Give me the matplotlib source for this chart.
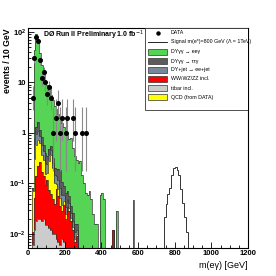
import numpy as np
import matplotlib
matplotlib.use("Agg")
import matplotlib.pyplot as plt
from matplotlib.patches import Rectangle
from matplotlib.lines import Line2D
from matplotlib.ticker import FixedLocator, MultipleLocator, LogLocator, NullFormatter

plt.rcParams['font.family'] = ['Liberation Sans', 'DejaVu Sans']

# 10 GeV bins from 20 to 600 GeV
edges = np.arange(20, 610, 10)
n_bins = len(edges) - 1

# background components, bins starting at 20 GeV (rest are empty)
ttbar = [0.006, 0.012, 0.018, 0.02, 0.02, 0.018, 0.02, 0.015, 0.015, 0.013,
         0.012, 0.01, 0.01, 0.008, 0.007, 0.006, 0.008, 0.007, 0.005, 0.005,
         0.004, 0.003, 0.002, 0.002, 0.001]
diboson = [0.005, 0.04, 0.12, 0.2, 0.25, 0.15, 0.12, 0.08, 0.1, 0.06,
           0.05, 0.04, 0.03, 0.07, 0.05, 0.03, 0.02, 0.03, 0.015, 0.03,
           0.025, 0.015, 0.01, 0.005, 0.008]
qcd = [0.06, 0.25, 0.45, 0.5, 0.35, 0.2, 0.15, 0.06, 0.05, 0.2,
       0.3, 0.15, 0.06, 0.02, 0.02, 0.015, 0.01, 0.008, 0.005, 0.005,
       0.004, 0.003, 0.002, 0.001, 0.001]
dy_jet = [0.005, 0.15, 0.35, 0.4, 0.25, 0.2, 0.15, 0.1, 0.08, 0.1,
          0.1, 0.06, 0.05, 0.04, 0.04, 0.03, 0.02, 0.015, 0.01, 0.01,
          0.008, 0.005, 0.004, 0.003, 0.002]
dy_tautau = [0.005, 0.3, 0.4, 0.5, 0.3, 0.25, 0.15, 0.15, 0.1, 0.1,
             0.08, 0.06, 0.05, 0.06, 0.08, 0.1, 0.05, 0.03, 0.03, 0.02,
             0.015, 0.01, 0.008, 0.005, 0.004]
dy_ee = [0.0, 44, 89, 63, 37, 21, 15, 10.5, 8.6, 6.5,
         5.0, 4.2, 3.3, 2.8, 2.2, 1.8, 1.5, 1.2, 1.0, 0.83,
         0.7, 0.76, 0.47, 0.33, 0.28, 0.25, 0.28, 0.15, 0.1, 0.065,
         0.06, 0.07, 0.05, 0.025, 0.016, 0.016, 0.0, 0.06, 0.065, 0.05,
         0.0, 0.0, 0.0, 0.0, 0.0, 0.0, 0.028, 0.0, 0.0, 0.0,
         0.0, 0.0, 0.0, 0.0, 0.0, 0.047, 0.0, 0.0]
diboson_tail_mass = [460]
diboson_tail = [0.012]

# signal m(e*) = 800 GeV, bins from 740 GeV
signal_edges = np.arange(740, 880, 10)
signal = [0.022, 0.04, 0.062, 0.08, 0.15, 0.2, 0.21, 0.185, 0.15, 0.078,
          0.042, 0.022, 0.011]

# data, bin centres and counts
data_mass = [25, 35, 45, 55, 65, 75, 85, 95, 105, 115, 125, 135, 155, 165,
             175, 185, 205, 215, 245, 255, 295, 315]
data_n = [5, 30, 78, 66, 28, 12, 16, 10, 6, 8, 5, 1, 2, 4,
          1, 2, 1, 2, 2, 1, 1, 1]

# 68% Poisson intervals for small counts, sqrt(N) above
poisson_lo = {1: 0.173, 2: 0.708, 3: 1.37, 4: 2.09, 5: 2.84}
poisson_hi = {1: 3.30, 2: 4.64, 3: 5.92, 4: 7.16, 5: 8.38}


def pad(v):
    v = np.asarray(v, dtype=float)
    return np.pad(v, (0, n_bins - len(v)))


tt = pad(ttbar)
ww = pad(diboson)
for m, v in zip(diboson_tail_mass, diboson_tail):
    ww[np.searchsorted(edges, m)] = v
stack = [('#cccccc', tt), ('#ff0000', ww), ('#ffff00', pad(qcd)),
         ('#778899', pad(dy_jet)), ('#5c5c5c', pad(dy_tautau)), ('#55d455', pad(dy_ee))]
cum = np.cumsum([s[1] for s in stack], axis=0)

fig = plt.figure(figsize=(2.76, 2.76), dpi=100, facecolor='white')
ax = fig.add_axes([28 / 276, 28 / 276, 220 / 276, 220 / 276])
ax.set_yscale('log')

floor = 1e-5
# draw the cumulative sums from the top down, like a ROOT stack
for i in range(len(stack) - 1, -1, -1):
    vals = np.where(cum[i] > 0, cum[i], floor)
    ax.stairs(vals, edges, fill=True, baseline=floor, color=stack[i][0], lw=0)
    ax.stairs(vals, edges, baseline=floor, color='#333333', lw=0.5)

ax.stairs(signal, signal_edges, baseline=floor, color='#333333', lw=0.7)

n = np.array(data_n, dtype=float)
lo = np.array([k - poisson_lo[k] if k in poisson_lo else np.sqrt(k) for k in data_n])
hi = np.array([poisson_hi[k] - k if k in poisson_hi else np.sqrt(k) for k in data_n])
ax.errorbar(data_mass, n, yerr=[lo, hi], fmt='none', ecolor='#8a8a8a',
            elinewidth=0.8, capsize=0)
ax.plot(data_mass, n, 'o', color='black', ms=2.6)

ax.set_xlim(0, 1200)
ax.set_ylim(0.00528, 120)

ax.xaxis.set_major_locator(MultipleLocator(200))
ax.xaxis.set_minor_locator(MultipleLocator(50))
ax.yaxis.set_major_locator(FixedLocator([1e-2, 1e-1, 1, 10, 100]))
ax.set_yticklabels(['$\\mathregular{10^{-2}}$', '$\\mathregular{10^{-1}}$', '1', '10',
                    '$\\mathregular{10^{2}}$'])
ax.yaxis.set_minor_locator(LogLocator(base=10, subs=np.arange(2, 10)))
ax.yaxis.set_minor_formatter(NullFormatter())
ax.tick_params(which='both', direction='in', top=False, right=False,
               labelsize=5.5, pad=1.5, width=0.6)
ax.tick_params(which='major', length=4)
ax.tick_params(which='minor', length=2)
for lab in ax.get_xticklabels() + ax.get_yticklabels():
    lab.set_fontweight('bold')
for s in ax.spines.values():
    s.set_linewidth(0.8)

fig.text(8 / 276, 1 - 28 / 276, 'events / 10 GeV', rotation=90, ha='center',
         va='top', fontsize=6.3, fontweight='bold')
fig.text(248 / 276, 1 - 266 / 276, 'm(e\u03b3) [GeV]', ha='right', va='center',
         fontsize=6.5)
ax.text(0.068, 0.966, 'D\u00d8 Run II Preliminary 1.0 fb$^{-1}$', transform=ax.transAxes,
        ha='left', va='center', fontsize=5.0, fontweight='bold')

# legend box
lx0 = (145 - 28) / 220
ly0 = (248 - 110) / 220
ax.add_patch(Rectangle((lx0, ly0), 1 - lx0, 1 - ly0, transform=ax.transAxes,
                       facecolor='white', edgecolor='#333333', lw=0.6, zorder=5))
labels = ['DATA', 'Signal m(e*)=800 GeV (\u039b = 1TeV)', 'DY\u03b3\u03b3 \u2192 ee\u03b3',
          'DY\u03b3\u03b3 \u2192 \u03c4\u03c4\u03b3', 'DY+jet \u2192 ee+jet', 'WW/WZ/ZZ incl.',
          'ttbar incl.', 'QCD (from DATA)']
row_y = [33, 42, 52, 61, 70, 79, 88, 97]
box_colors = [None, None, '#55d455', '#5c5c5c', '#778899', '#ff0000', '#cccccc', '#ffff00']
for lab, yy, c in zip(labels, row_y, box_colors):
    ya = (248 - yy) / 220
    xa0 = (148 - 28) / 220
    xa1 = (167 - 28) / 220
    if c is not None:
        ax.add_patch(Rectangle((xa0, ya - 3 / 220), xa1 - xa0, 6 / 220, transform=ax.transAxes,
                               facecolor=c, edgecolor='#333333', lw=0.5, zorder=6))
    elif lab == 'DATA':
        ax.plot([(xa0 + xa1) / 2], [ya], 'o', color='black', ms=2.2, transform=ax.transAxes,
                zorder=6)
    else:
        ax.add_line(Line2D([xa0, xa1], [ya, ya], color='black', lw=0.6,
                           transform=ax.transAxes, zorder=6))
    ax.text((171 - 28) / 220, ya, lab, transform=ax.transAxes, ha='left', va='center',
            fontsize=3.8, zorder=6)

fig.savefig('out.png', dpi=100, facecolor='white')
